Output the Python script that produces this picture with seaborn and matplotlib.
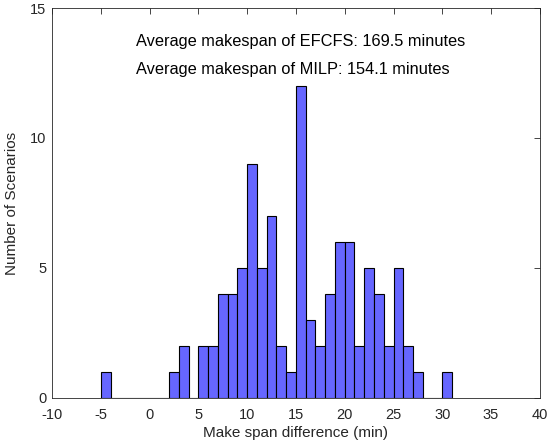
import numpy as np
import pandas as pd
import matplotlib
matplotlib.use("Agg")
import matplotlib.pyplot as plt
import seaborn as sns

bin_left = list(range(-5, 31))
counts = [1, 0, 0, 0, 0, 0, 0, 1, 2, 0,
          2, 2, 4, 4, 5, 9, 5, 7, 2, 1,
          12, 3, 2, 4, 6, 6, 2, 5, 4, 2,
          5, 2, 1, 0, 0, 1]
x_ticks = [-10, -5, 0, 5, 10, 15, 20, 25, 30, 35, 40]
y_ticks = [0, 5, 10, 15]
notes = ["Average makespan of EFCFS: 169.5 minutes",
         "Average makespan of MILP: 154.1 minutes"]

sns.set_style("white")
plt.rcParams['font.family'] = ['Liberation Sans', 'DejaVu Sans']
plt.rcParams['axes.unicode_minus'] = False

df = pd.DataFrame({"x": np.array(bin_left) + 0.5, "n": counts})
edges = list(range(-5, 32))
dark = "#262626"

fig = plt.figure(figsize=(5.56, 4.48), dpi=100)
ax = fig.add_axes([0.0935, 0.112, 0.8775, 0.870])
sns.histplot(data=df, x="x", weights="n", bins=edges, ax=ax,
             color="#6666FF", alpha=1, edgecolor="black", linewidth=0.8)

ax.set_xlim(-10, 40)
ax.set_ylim(0, 15)
ax.set_xticks(x_ticks)
ax.set_yticks(y_ticks)
ax.tick_params(direction="in", top=True, right=True, length=4, width=0.6,
               labelsize=10.5, colors=dark)
ax.tick_params(axis="x", pad=7)
ax.tick_params(axis="y", pad=4)
for s in ax.spines.values():
    s.set_visible(True)
    s.set_color(dark)
    s.set_linewidth(0.6)
ax.set_xlabel("Make span difference (min)", fontsize=11, color=dark, labelpad=3)
ax.set_ylabel("Number of Scenarios", fontsize=11, color=dark, labelpad=8)
ax.text(-1.4, 13.7, notes[0], fontsize=11.8, va="center", ha="left", color="black")
ax.text(-1.4, 12.65, notes[1], fontsize=11.8, va="center", ha="left", color="black")

fig.savefig("out.png", dpi=100)
